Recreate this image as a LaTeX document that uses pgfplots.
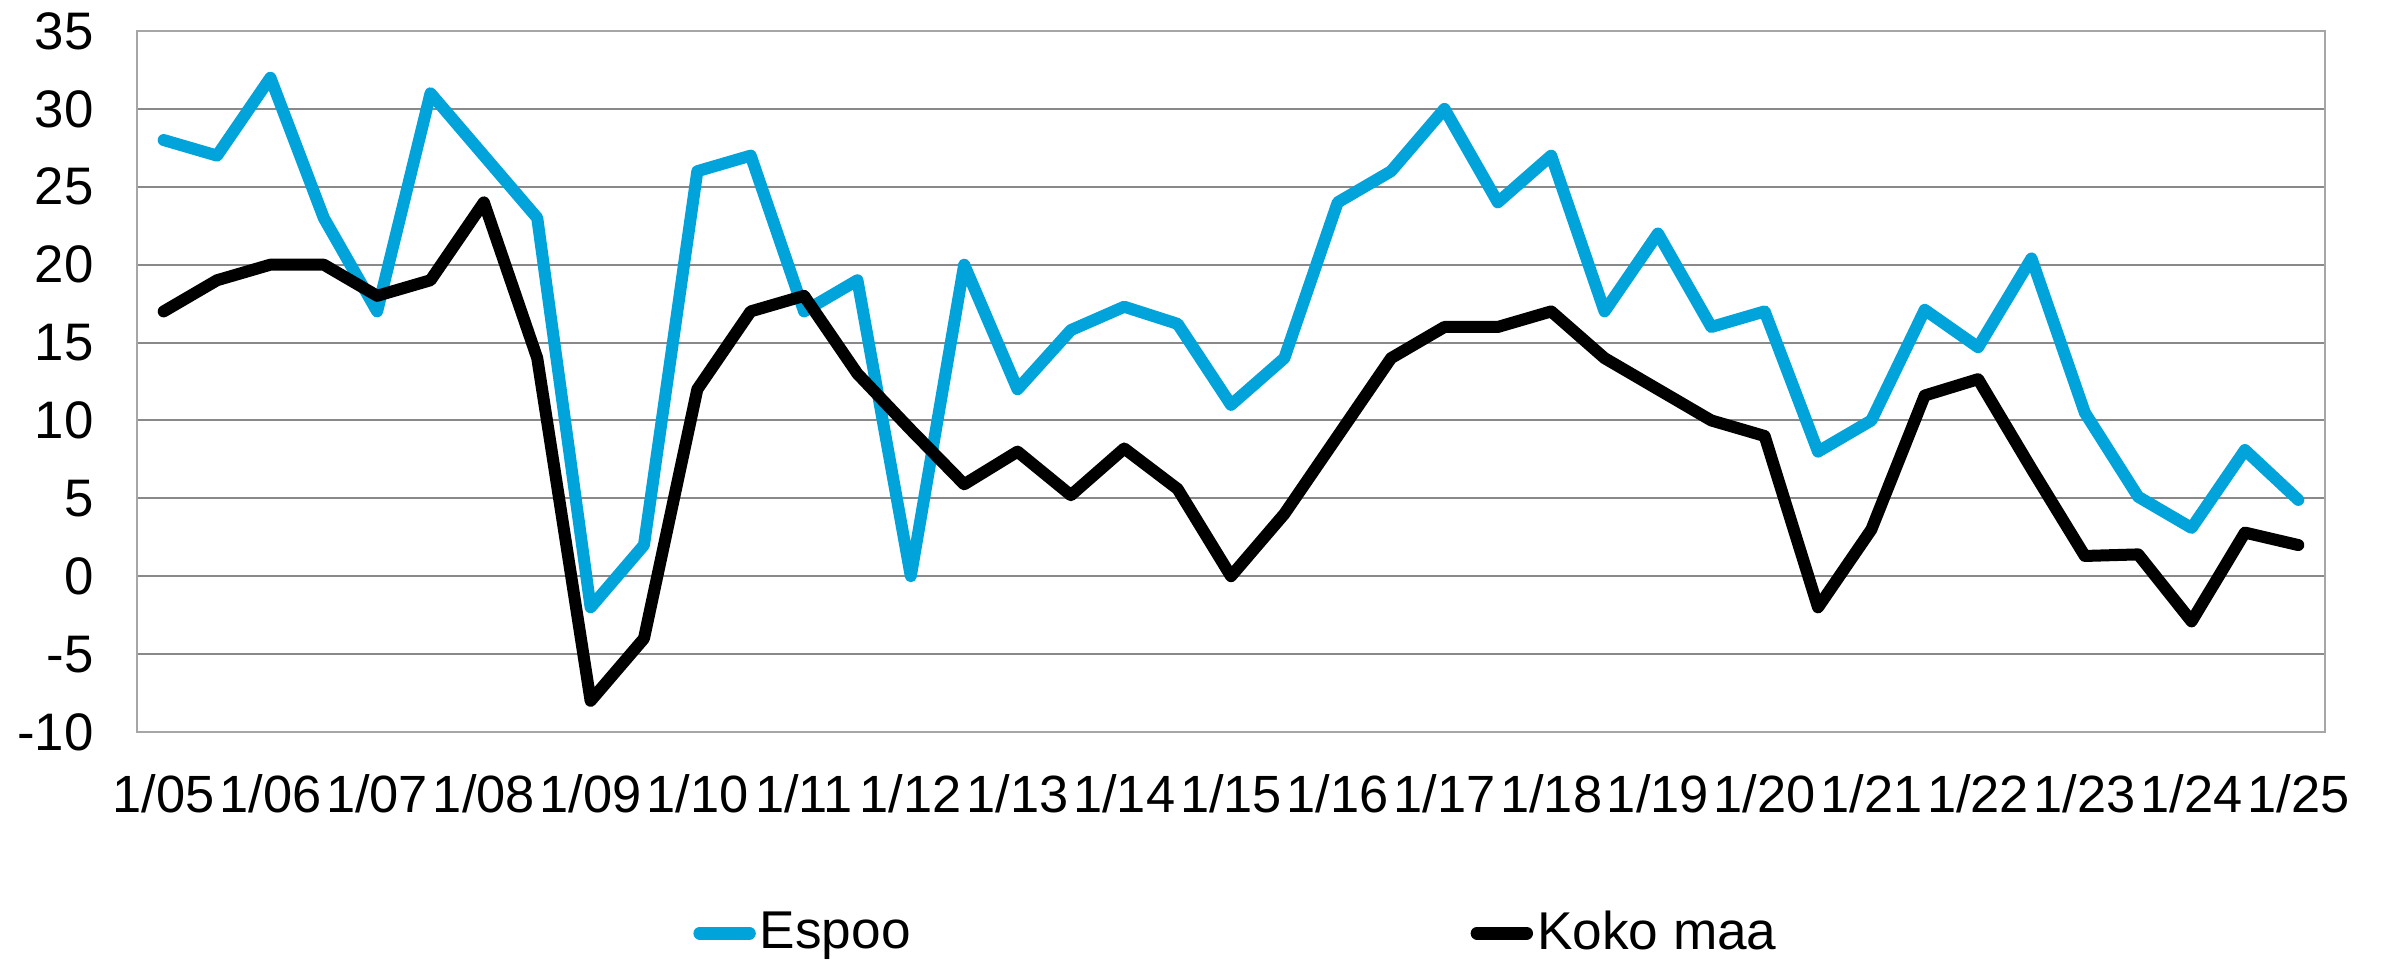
\documentclass[border=0pt]{standalone}
\usepackage{fontspec}
\setmainfont{Liberation Sans}
\usepackage{pgfplots}
\pgfplotsset{compat=1.18}

\definecolor{espoo}{RGB}{0,163,218}
\definecolor{gridgray}{RGB}{137,137,137}
\definecolor{framegray}{RGB}{166,166,166}

\begin{document}
\begin{tikzpicture}
\useasboundingbox (-34.25pt,-57.25pt) rectangle (561pt,183pt);
\begin{axis}[
    at={(0,0)}, anchor=south west,
    scale only axis,
    width=547pt, height=175.25pt,
    xmin=-0.5, xmax=40.5,
    ymin=-10, ymax=35,
    ytick={-10,-5,...,35},
    xtick={0,2,...,40},
    xticklabels={1/05,1/06,1/07,1/08,1/09,1/10,1/11,1/12,1/13,1/14,1/15,
                 1/16,1/17,1/18,1/19,1/20,1/21,1/22,1/23,1/24,1/25},
    ymajorgrids,
    grid style={color=gridgray, line width=0.5pt},
    axis line style={color=framegray, line width=0.5pt},
    major tick length=0pt,
    tick style={draw=none},
    /pgf/number format/assume math mode=true,
    yticklabel style={font=\fontsize{13.2}{16}\selectfont, xshift=-7.3pt},
    xticklabel style={font=\fontsize{13.1}{15}\selectfont, yshift=-7.2pt},
    legend style={
        at={(0.5,-0.287)}, anchor=center, xshift=1.5pt,
        draw=none, fill=none,
        legend columns=2,
        font=\fontsize{13.3}{16}\selectfont,
        /tikz/every even column/.append style={column sep=139pt},
        nodes={inner sep=1pt},
    },
    legend image code/.code={\draw[#1, line width=3.2pt, line cap=round] (1.6pt,0pt) -- (14pt,0pt);},
    every axis plot/.append style={line width=3pt, line join=round, line cap=round},
]
\addplot[color=espoo] coordinates {
    (0,28) (1,27) (2,32) (3,23) (4,17) (5,31) (6,27) (7,23) (8,-2) (9,2)
    (10,26) (11,27) (12,17) (13,19) (14,0) (15,20) (16,12) (17,15.8) (18,17.3) (19,16.2)
    (20,11) (21,14) (22,24) (23,26) (24,30) (25,24) (26,27) (27,17) (28,22) (29,16)
    (30,17) (31,8) (32,10) (33,17.1) (34,14.7) (35,20.4) (36,10.5) (37,5.1) (38,3.1) (39,8.1)
    (40,4.9)
};
\addplot[color=black] coordinates {
    (0,17) (1,19) (2,20) (3,20) (4,18) (5,19) (6,24) (7,14) (8,-8) (9,-4)
    (10,12) (11,17) (12,18) (13,13) (14,9.4) (15,5.9) (16,8) (17,5.2) (18,8.2) (19,5.6)
    (20,0) (21,4) (22,9) (23,14) (24,16) (25,16) (26,17) (27,14) (28,12) (29,10)
    (30,9) (31,-2) (32,3) (33,11.6) (34,12.65) (35,6.9) (36,1.3) (37,1.4) (38,-2.9) (39,2.8)
    (40,2)
};
\legend{Espoo, Koko maa}
\end{axis}
\end{tikzpicture}
\end{document}
